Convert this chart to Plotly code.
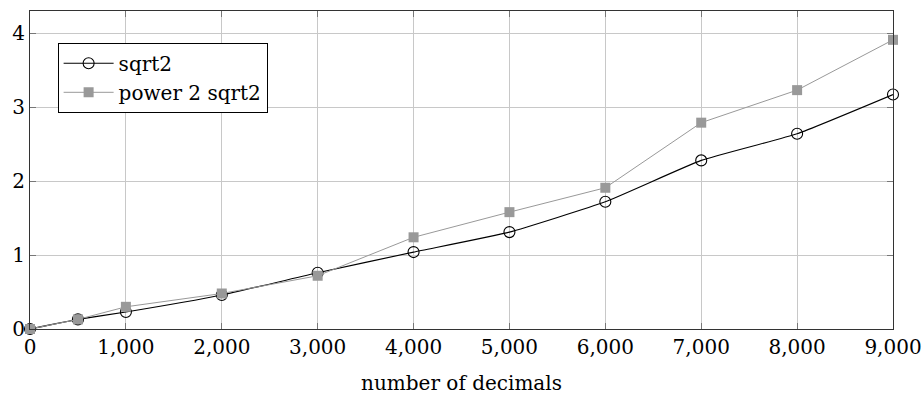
import plotly.graph_objects as go

x_vals = [0, 500, 1000, 2000, 3000, 4000, 5000, 6000, 7000, 8000, 9000]
sqrt2 = [0.0, 0.13, 0.23, 0.46, 0.76, 1.04, 1.31, 1.72, 2.28, 2.64, 3.17]
power2_sqrt2 = [0.0, 0.13, 0.30, 0.48, 0.72, 1.24, 1.58, 1.91, 2.79, 3.23, 3.91]
x_ticks = [0, 1000, 2000, 3000, 4000, 5000, 6000, 7000, 8000, 9000]
x_tick_labels = ["0", "1,000", "2,000", "3,000", "4,000", "5,000", "6,000", "7,000", "8,000", "9,000"]
y_ticks = [0, 1, 2, 3, 4]

FONT = "DejaVu Serif"
FS = 20

fig = go.Figure()
fig.add_trace(go.Scatter(
    x=x_vals, y=sqrt2, name="sqrt2", mode="lines+markers",
    line=dict(color="black", width=1.1, shape="spline", smoothing=0.4),
    marker=dict(symbol="circle-open", size=11, color="black", line=dict(width=1.1)),
    cliponaxis=False,
))
fig.add_trace(go.Scatter(
    x=x_vals, y=power2_sqrt2, name="power 2 sqrt2", mode="lines+markers",
    line=dict(color="#999999", width=1),
    marker=dict(symbol="square", size=10, color="#999999"),
    cliponaxis=False,
))

fig.update_layout(
    width=923, height=395,
    margin=dict(l=30, r=30, t=11, b=66),
    paper_bgcolor="white", plot_bgcolor="white",
    font=dict(family=FONT, size=FS, color="black"),
    showlegend=True,
    legend=dict(
        x=0.032, y=0.9, xanchor="left", yanchor="top",
        bgcolor="white", bordercolor="black", borderwidth=1,
        font=dict(family=FONT, size=FS, color="black"),
        itemwidth=50, tracegroupgap=0,
    ),
)
fig.update_xaxes(
    range=[0, 9000], tickvals=x_ticks, ticktext=x_tick_labels,
    showgrid=True, gridcolor="#c8c8c8", gridwidth=1,
    showline=True, linecolor="#333333", linewidth=1, mirror="ticks",
    ticks="inside", ticklen=6, tickcolor="#777777",
    zeroline=False, automargin=False,
    title=dict(text="number of decimals", standoff=17, font=dict(family=FONT, size=FS)),
)
fig.update_yaxes(
    range=[0, 4.3], tickvals=y_ticks,
    showgrid=True, gridcolor="#c8c8c8", gridwidth=1,
    showline=True, linecolor="#333333", linewidth=1, mirror="ticks",
    ticks="inside", ticklen=6, tickcolor="#777777",
    zeroline=False, automargin=False,
)

fig.write_html("out.html")
